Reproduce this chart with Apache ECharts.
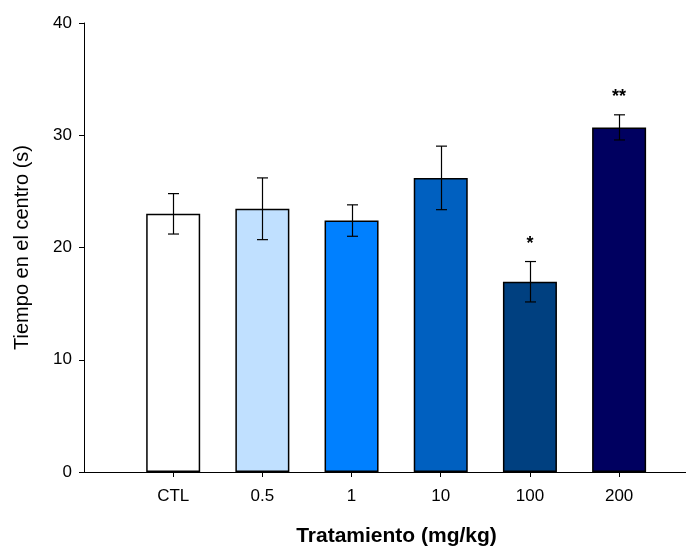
<!DOCTYPE html>
<html>
<head>
<meta charset="utf-8">
<script src="https://cdn.jsdelivr.net/npm/echarts@6/dist/echarts.min.js"></script>
<style>html,body{margin:0;padding:0;background:#fff}#c{width:686px;height:546px}</style>
</head>
<body>
<div id="c"></div>
<script>
var categories = ['CTL', '0.5', '1', '10', '100', '200'];
var means = [23.0, 23.45, 22.4, 26.2, 16.95, 30.7];
var sem = [1.8, 2.75, 1.4, 2.83, 1.8, 1.12];
var significance = ['', '', '', '', '*', '**'];
var barColors = ['#FFFFFF', '#C0E0FF', '#0080FF', '#0060C0', '#004080', '#000060'];
var yTicks = [0, 10, 20, 30, 40];

var chart = echarts.init(document.getElementById('c'));
var font = 'Liberation Sans, Arial, sans-serif';
var idx = categories.map(function (c, i) { return i; });

chart.setOption({
  animation: false,
  grid: { left: 84, right: 0, top: 23, bottom: 74, outerBoundsMode: 'none', containLabel: false },
  xAxis: {
    type: 'value', min: -1, max: 5.75,
    axisLine: { show: true, onZero: false, lineStyle: { color: '#000', width: 1 } },
    axisTick: { show: true, customValues: idx, length: 5, lineStyle: { color: '#000' } },
    axisLabel: { customValues: idx, formatter: function (v) { return categories[Math.round(v)]; },
      color: '#000', fontSize: 17, fontFamily: font, margin: 16 },
    splitLine: { show: false },
    name: 'Tratamiento (mg/kg)', nameLocation: 'middle', nameGap: 54,
    nameTextStyle: { color: '#000', fontSize: 21, fontWeight: 'bold', fontFamily: font, padding: [0, 0, 0, 23] }
  },
  yAxis: {
    type: 'value', min: 0, max: 40, interval: 10,
    axisLine: { show: true, onZero: false, lineStyle: { color: '#000', width: 1 } },
    axisTick: { show: true, inside: false, length: 5, lineStyle: { color: '#000' } },
    axisLabel: { color: '#000', fontSize: 17, fontFamily: font, margin: 12,
      customValues: yTicks },
    splitLine: { show: false },
    name: 'Tiempo en el centro (s)', nameLocation: 'middle', nameGap: 52,
    nameTextStyle: { color: '#000', fontSize: 20, fontFamily: font }
  },
  series: [
    {
      type: 'bar', barWidth: 54,
      data: means.map(function (m, i) {
        return { value: [i, m], itemStyle: { color: barColors[i], borderColor: '#000', borderWidth: 1.5 } };
      }),
      z: 2
    },
    {
      type: 'custom',
      data: means.map(function (m, i) { return [i, m - sem[i], m + sem[i]]; }),
      renderItem: function (params, api) {
        var lo = api.coord([api.value(0), api.value(1)]);
        var hi = api.coord([api.value(0), api.value(2)]);
        var x = Math.round(lo[0]) + 0.5;
        var cap = 5.5;
        var style = { stroke: '#000', lineWidth: 1.2 };
        return { type: 'group', children: [
          { type: 'line', shape: { x1: x, y1: lo[1], x2: x, y2: hi[1] }, style: style },
          { type: 'line', shape: { x1: x - cap, y1: hi[1], x2: x + cap, y2: hi[1] }, style: style },
          { type: 'line', shape: { x1: x - cap, y1: lo[1], x2: x + cap, y2: lo[1] }, style: style }
        ]};
      },
      z: 3
    },
    {
      type: 'custom',
      data: means.map(function (m, i) { return [i, m + sem[i]]; }),
      renderItem: function (params, api) {
        var p = api.coord([api.value(0), api.value(1)]);
        return { type: 'text', x: p[0], y: p[1] - 9,
          style: { text: significance[params.dataIndex], fill: '#000', fontSize: 18, fontWeight: 'bold',
            fontFamily: font, align: 'center', verticalAlign: 'bottom' } };
      },
      z: 4
    }
  ]
});
</script>
</body>
</html>
